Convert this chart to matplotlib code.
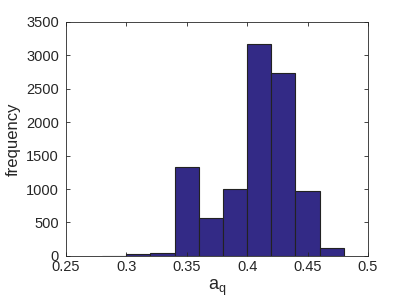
import numpy as np
import matplotlib.pyplot as plt

plt.rcParams['font.family'] = ['Liberation Sans', 'DejaVu Sans']
plt.rcParams['mathtext.fontset'] = 'custom'
plt.rcParams['mathtext.rm'] = 'Liberation Sans'

# histogram bins (left edges) and counts
bin_edges = [0.28, 0.30, 0.32, 0.34, 0.36, 0.38, 0.40, 0.42, 0.44, 0.46, 0.48]
counts = [3, 25, 50, 1326, 573, 997, 3168, 2729, 973, 125]

x_ticks = [0.25, 0.3, 0.35, 0.4, 0.45, 0.5]
x_tick_labels = ["0.25", "0.3", "0.35", "0.4", "0.45", "0.5"]
y_ticks = [0, 500, 1000, 1500, 2000, 2500, 3000, 3500]


def main():
    fig = plt.figure(figsize=[4.07, 3.05], dpi=100)
    ax = fig.add_axes([0.162, 0.161, 0.742, 0.767])

    widths = np.diff(bin_edges)
    ax.bar(bin_edges[:-1], counts, width=widths, align="edge",
           color="#332a86", edgecolor="#222222", linewidth=0.8)

    ax.set_xlim(0.25, 0.5)
    ax.set_ylim(0, 3500)
    ax.set_xticks(x_ticks)
    ax.set_xticklabels(x_tick_labels)
    ax.set_yticks(y_ticks)
    ax.tick_params(direction="in", top=True, right=True, length=3,
                   width=0.6, labelsize=10.5, colors="#262626")
    ax.tick_params(axis="y", pad=5)
    ax.tick_params(axis="x", pad=3)
    for spine in ax.spines.values():
        spine.set_linewidth(0.6)
        spine.set_color("#262626")

    ax.set_xlabel(r"a$_\mathregular{q}$", fontsize=13, color="#262626", labelpad=3)
    ax.set_ylabel("frequency", fontsize=12, color="#262626", labelpad=4)

    fig.savefig("out.png", dpi=100)
    plt.close(fig)


if __name__ == "__main__":
    main()
